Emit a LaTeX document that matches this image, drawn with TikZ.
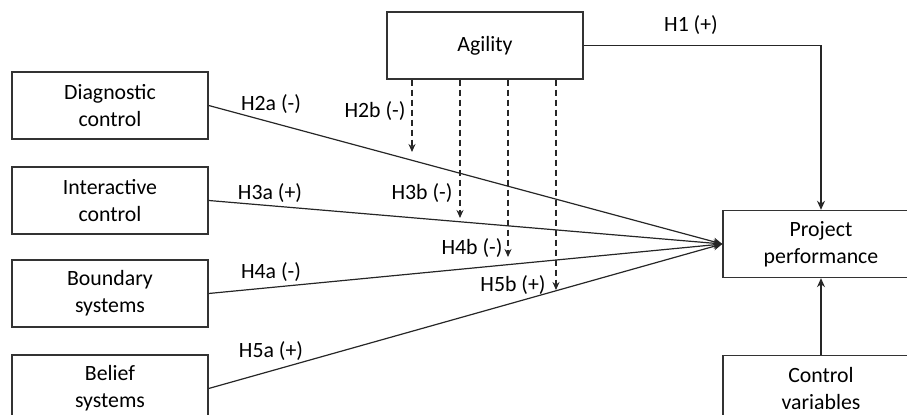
\documentclass[tikz,border=0pt]{standalone}
\usepackage{fontspec}
\setmainfont{Carlito}
\usetikzlibrary{arrows.meta}
\begin{document}
\begin{tikzpicture}[x=0.5pt,y=-0.5pt,
  box/.style={draw=black!80,line width=0.7pt,minimum width=98pt,minimum height=33.5pt,inner sep=0pt,align=center,font=\fontsize{10.9}{13.5}\selectfont},
  lbl/.style={font=\fontsize{10.9}{13.5}\selectfont,inner sep=0pt},
  conn/.style={draw=black!85,line width=0.6pt,-{Stealth[length=4.5pt,width=4pt]}},
  dconn/.style={draw=black!85,line width=0.6pt,dashed,dash pattern=on 3pt off 2pt,-{Stealth[length=4pt,width=3.5pt]}}]
\useasboundingbox (0,0) rectangle (907,415);
\clip (0,0) rectangle (907,415);
\node[box] (diag) at (110,105.5) {Diagnostic\\control};
\node[box] (inter) at (110,200.5) {Interactive\\control};
\node[box] (bound) at (110,293.5) {Boundary\\systems};
\node[box] (belief) at (110,388.5) {Belief\\systems};
\node[box] (agil) at (485,45.5) {Agility};
\node[box] (pp) at (821,244) {Project\\performance};
\node[box] (cv) at (821,389) {Control\\variables};
% main arrows
\draw[conn] (agil.east) -| (pp.north);
\draw[conn] (cv.north) -- (pp.south);
\draw[conn] (diag.east) -- (pp.west);
\draw[conn] (inter.east) -- (pp.west);
\draw[conn] (bound.east) -- (pp.west);
\draw[conn] (belief.east) -- (pp.west);
% dashed moderation arrows
\coordinate (m2) at (412,152);
\coordinate (m3) at (460,218);
\coordinate (m4) at (508,257);
\coordinate (m5) at (556,290);
\draw[dconn] (agil.south -| m2) -- (m2);
\draw[dconn] (agil.south -| m3) -- (m3);
\draw[dconn] (agil.south -| m4) -- (m4);
\draw[dconn] (agil.south -| m5) -- (m5);
% labels
\node[lbl] (h1) at (691,25) {H1 (+)};
\node[lbl] (h2a) at (271,104) {H2a (-)};
\node[lbl] (h2b) at (375,111) {H2b (-)};
\node[lbl] (h3a) at (270,193) {H3a (+)};
\node[lbl] (h3b) at (422,193) {H3b (-)};
\node[lbl] (h4a) at (271,272) {H4a (-)};
\node[lbl] (h4b) at (472,248) {H4b (-)};
\node[lbl] (h5a) at (271,351) {H5a (+)};
\node[lbl] (h5b) at (513,285) {H5b (+)};
\end{tikzpicture}
\end{document}
